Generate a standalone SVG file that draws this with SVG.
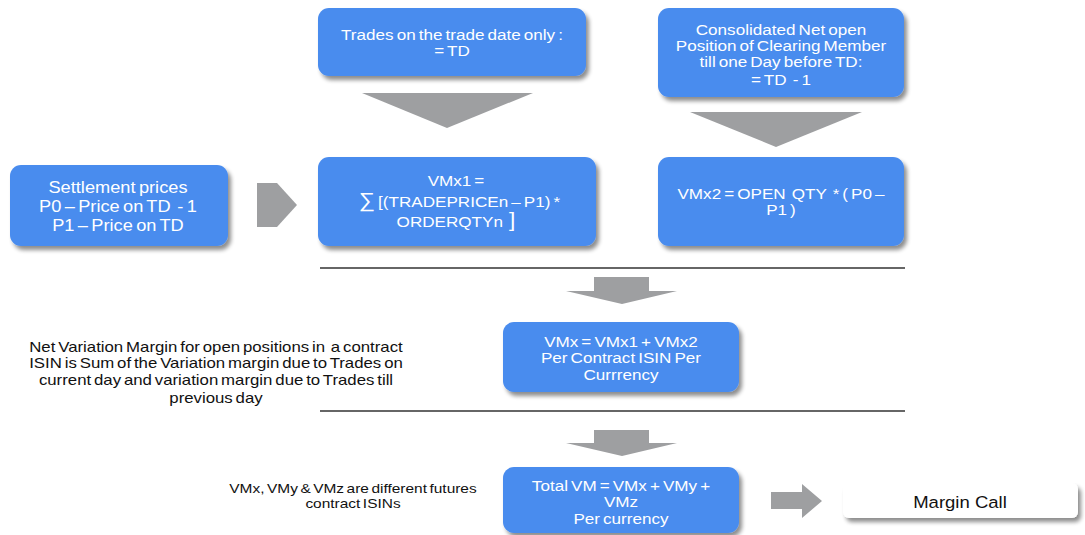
<svg xmlns="http://www.w3.org/2000/svg" width="1085" height="535" viewBox="0 0 1085 535">
  <defs>
    <filter id="shadow" x="-10%" y="-10%" width="130%" height="140%">
      <feGaussianBlur in="SourceAlpha" stdDeviation="2"/>
      <feOffset dx="3" dy="4" result="b"/>
      <feComponentTransfer><feFuncA type="linear" slope="0.45"/></feComponentTransfer>
      <feMerge><feMergeNode/><feMergeNode in="SourceGraphic"/></feMerge>
    </filter>
  </defs>
  <style>
    .box { fill: #4A8CEE; filter: url(#shadow); }
    .wbox { fill: #ffffff; filter: url(#shadow); }
    .arrow { fill: #9E9FA1; }
    .rule { stroke: #333333; stroke-width: 1.4; fill: none; }
    text { font-family: "Liberation Sans", Arial, sans-serif; text-anchor: middle; white-space: pre; }
    .w { fill: #ffffff; font-size: 15px; word-spacing: -1.5px; }
    .k { fill: #111111; font-size: 14px; word-spacing: -1.5px; }
    .s { fill: #111111; font-size: 13px; word-spacing: -1.5px; }
  </style>

  <!-- connectors: block arrows and separator rules -->
  <g id="connectors">
    <polygon class="arrow" points="362,93 533,93 447,128"/>
    <polygon class="arrow" points="690,112 862,112 776,147"/>
    <polygon class="arrow" points="257,183 277,183 297,205 277,227 257,227"/>
    <polygon class="arrow" points="594,277 649,277 649,291 677,291 622,304 566,291 594,291"/>
    <polygon class="arrow" points="594,430 649,430 649,443 677,443 622,456 566,443 594,443"/>
    <polygon class="arrow" points="771,492 802,492 802,484 822,501 802,518 802,509 771,509"/>
    <line class="rule" x1="320" y1="268" x2="905" y2="268"/>
    <line class="rule" x1="320" y1="411" x2="905" y2="411"/>
  </g>

  <!-- text in every node is widened horizontally about its centre line -->
  <g id="trades-td">
    <rect class="box" x="318" y="8" width="268" height="68" rx="11"/>
    <g transform="translate(452 0) scale(1.14 1) translate(-452 0)">
      <text class="w" x="452" y="40">Trades on the trade date only :</text>
      <text class="w" x="452" y="56">= TD</text>
    </g>
  </g>

  <g id="net-open-position">
    <rect class="box" x="658" y="8" width="246" height="89" rx="11"/>
    <g transform="translate(781 0) scale(1.14 1) translate(-781 0)">
      <text class="w" x="781" y="35">Consolidated Net open</text>
      <text class="w" x="781" y="51">Position of Clearing Member</text>
      <text class="w" x="781" y="67">till one Day before TD:</text>
      <text class="w" x="781" y="85">= TD  - 1</text>
    </g>
  </g>

  <g id="settlement-prices">
    <rect class="box" x="10" y="165" width="218" height="81" rx="11"/>
    <g transform="translate(118 0) scale(1.14 1) translate(-118 0)">
      <text class="w" x="118" y="193" style="font-size:16px">Settlement prices</text>
      <text class="w" x="118" y="212" style="font-size:16px">P0 – Price on TD  - 1</text>
      <text class="w" x="118" y="231" style="font-size:16px">P1 – Price on TD</text>
    </g>
  </g>

  <g id="vmx1">
    <rect class="box" x="318" y="157" width="278" height="89" rx="11"/>
    <g transform="translate(456 0) scale(1.14 1) translate(-456 0)">
      <text class="w" x="456" y="186">VMx1 =</text>
      <text class="w" x="459" y="207"><tspan style="font-size:20px">∑</tspan> [(TRADEPRICEn – P1) *</text>
      <text class="w" x="456" y="227">ORDERQTYn  <tspan style="font-size:20px">]</tspan></text>
    </g>
  </g>

  <g id="vmx2">
    <rect class="box" x="658" y="157" width="246" height="89" rx="11"/>
    <g transform="translate(781 0) scale(1.14 1) translate(-781 0)">
      <text class="w" x="781" y="199">VMx2 = OPEN  QTY  * ( P0 –</text>
      <text class="w" x="781" y="215">P1 )</text>
    </g>
  </g>

  <g id="note-net-vm">
    <g transform="translate(216 0) scale(1.2 1) translate(-216 0)">
      <text class="k" x="216" y="352">Net Variation Margin for open positions in  a contract</text>
      <text class="k" x="216" y="368">ISIN is Sum of the Variation margin due to Trades on</text>
      <text class="k" x="216" y="385">current day and variation margin due to Trades till</text>
      <text class="k" x="216" y="403">previous day</text>
    </g>
  </g>

  <g id="vmx">
    <rect class="box" x="503" y="322" width="236" height="70" rx="11"/>
    <g transform="translate(621 0) scale(1.14 1) translate(-621 0)">
      <text class="w" x="621" y="347">VMx = VMx1 + VMx2</text>
      <text class="w" x="621" y="363">Per Contract ISIN Per</text>
      <text class="w" x="621" y="380">Currrency</text>
    </g>
  </g>

  <g id="note-isins">
    <g transform="translate(353 0) scale(1.19 1) translate(-353 0)">
      <text class="s" x="353" y="493">VMx, VMy &amp; VMz are different futures</text>
      <text class="s" x="353" y="508">contract ISINs</text>
    </g>
  </g>

  <g id="total-vm">
    <rect class="box" x="503" y="467" width="236" height="66" rx="11"/>
    <g transform="translate(621 0) scale(1.14 1) translate(-621 0)">
      <text class="w" x="621" y="491">Total VM = VMx + VMy +</text>
      <text class="w" x="621" y="507">VMz</text>
      <text class="w" x="621" y="524">Per currency</text>
    </g>
  </g>

  <g id="margin-call">
    <rect class="wbox" x="843" y="483" width="235" height="35" rx="6"/>
    <g transform="translate(960 0) scale(1.09 1) translate(-960 0)">
      <text x="960" y="508" style="font-size:17px; fill:#111111">Margin Call</text>
    </g>
  </g>
</svg>
